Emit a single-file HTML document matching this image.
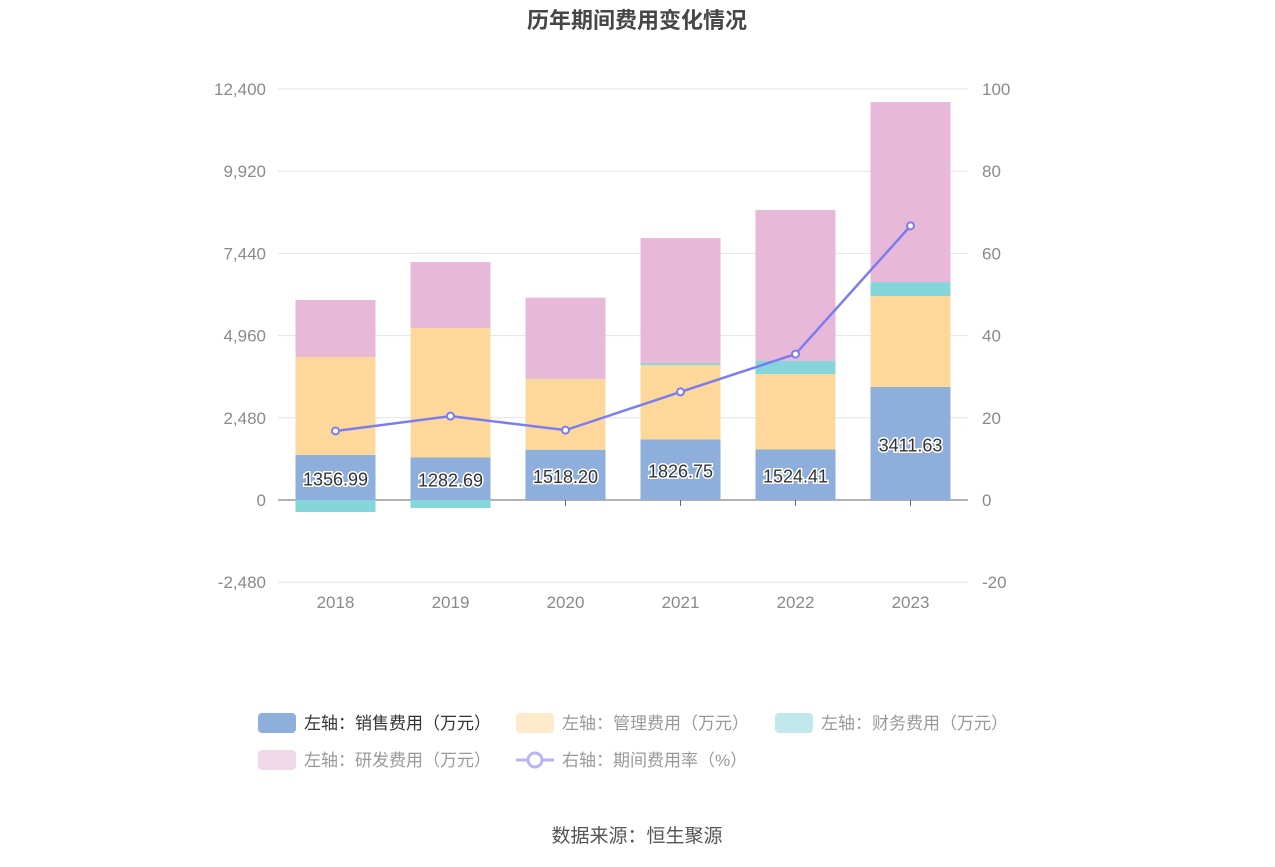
<!DOCTYPE html>
<html><head><meta charset="utf-8"><style>
body{margin:0;background:#fff;}
svg text{font-family:"Liberation Sans","Noto Sans CJK SC",sans-serif;}
</style></head><body>
<svg id="chart" width="1275" height="862" xmlns="http://www.w3.org/2000/svg">
<text x="637" y="28" text-anchor="middle" font-size="22" font-weight="bold" fill="#464646">历年期间费用变化情况</text>
<g id="grid"></g><g id="bars"></g><g id="line"></g>
<g font-size="17">
 <g><rect x="258" y="713" width="38" height="20" rx="4" fill="#8eaedb"/><text x="304" y="729" fill="#333">左轴：销售费用（万元）</text></g>
 <g><rect x="516" y="713" width="38" height="20" rx="4" fill="#fdebcb"/><text x="562" y="729" fill="#999">左轴：管理费用（万元）</text></g>
 <g><rect x="775" y="713" width="38" height="20" rx="4" fill="#c1e9ec"/><text x="821" y="729" fill="#999">左轴：财务费用（万元）</text></g>
 <g><rect x="258" y="750" width="38" height="20" rx="4" fill="#f2d9ea"/><text x="304" y="766" fill="#999">左轴：研发费用（万元）</text></g>
 <g><line x1="516" y1="760" x2="554" y2="760" stroke="#b5b5f5" stroke-width="3"/><circle cx="535" cy="760" r="7" fill="#fff" stroke="#b5b5f5" stroke-width="3"/><text x="562" y="766" fill="#999">右轴：期间费用率（%）</text></g>
</g>
<text x="637" y="842" text-anchor="middle" font-size="19" fill="#555">数据来源：恒生聚源</text>
</svg>
<script>
const years=["2018","2019","2020","2021","2022","2023"];
const sales=[1356.99,1282.69,1518.20,1826.75,1524.41,3411.63];
const admin=[2957,3906,2132,2245,2277,2742];
const finance=[-362,-240,10,60,392,422];
const rd=[1719,1990,2444,3771,4555,5430];
const rate=[16.8,20.4,17.0,26.3,35.5,66.7];
const leftTicks=[-2480,0,2480,4960,7440,9920,12400];
const rightTicks=[-20,0,20,40,60,80,100];
const NS="http://www.w3.org/2000/svg";
const x0=278,x1=968,y0=500,pxPer=411/12400;
const yL=v=>y0-v*pxPer, yR=v=>y0-v*4.11;
const bw=(x1-x0)/years.length, xc=i=>x0+bw*(i+0.5);
function mk(tag,attrs,parent,text){const e=document.createElementNS(NS,tag);for(const k in attrs)e.setAttribute(k,attrs[k]);if(text!==undefined)e.textContent=text;parent.appendChild(e);return e;}
const grid=document.getElementById('grid'),bars=document.getElementById('bars'),line=document.getElementById('line');
leftTicks.forEach((t,i)=>{
 const y=yL(t);
 if(t!==0){const g=mk('line',{x1:x0,x2:x1,y1:y,y2:y,stroke:'#e0e3ee','stroke-width':1},grid);
 
 }
 const l=mk('text',{x:266,y:y+6,'text-anchor':'end','font-size':17,fill:'#8a8a8a'},grid,t.toLocaleString('en-US'));
 
 
 const r=mk('text',{x:982,y:yR(rightTicks[i])+6,'font-size':17,fill:'#8a8a8a'},grid,String(rightTicks[i]));
 
 
});
years.forEach((yr,i)=>{
 const t=mk('text',{x:xc(i),y:608,'text-anchor':'middle','font-size':17,fill:'#8a8a8a'},grid,yr);
 
 
 mk('line',{x1:xc(i),x2:xc(i),y1:y0,y2:y0+6,stroke:'#666'},grid);
});
const series=[[sales,'#8eaedb','bar-sales'],[admin,'#fed89a','bar-admin'],[finance,'#85d6da','bar-finance'],[rd,'#e8b8d8','bar-rd']];
years.forEach((yr,i)=>{
 let pos=0,neg=0;
 series.forEach(([arr,col,name])=>{
  const v=arr[i];let a,b;
  if(v>=0){a=pos;b=pos+v;pos=b;}else{a=neg;b=neg+v;neg=b;}
  const top=Math.min(yL(a),yL(b)),h=Math.abs(yL(a)-yL(b));
  const r=mk('rect',{x:xc(i)-40,y:top,width:80,height:h,fill:col},bars);
  
  
 });
 const lb=mk('text',{x:xc(i),y:(yL(0)+yL(sales[i]))/2+8,'text-anchor':'middle','font-size':18,fill:'#333',stroke:'#fff','stroke-width':3,'paint-order':'stroke'},bars,sales[i].toFixed(2));
 
 
});
const ax=mk('line',{x1:x0,x2:x1,y1:y0,y2:y0,stroke:'#666'},grid);


const pts=rate.map((v,i)=>xc(i)+','+yR(v)).join(' ');
const pl=mk('polyline',{points:pts,fill:'none',stroke:'#7b7cf0','stroke-width':2.5},line);


rate.forEach((v,i)=>{
 const c=mk('circle',{cx:xc(i),cy:yR(v),r:3.5,fill:'#fff',stroke:'#7b7cf0','stroke-width':2},line);
 
 
});
</script>
</body></html>
